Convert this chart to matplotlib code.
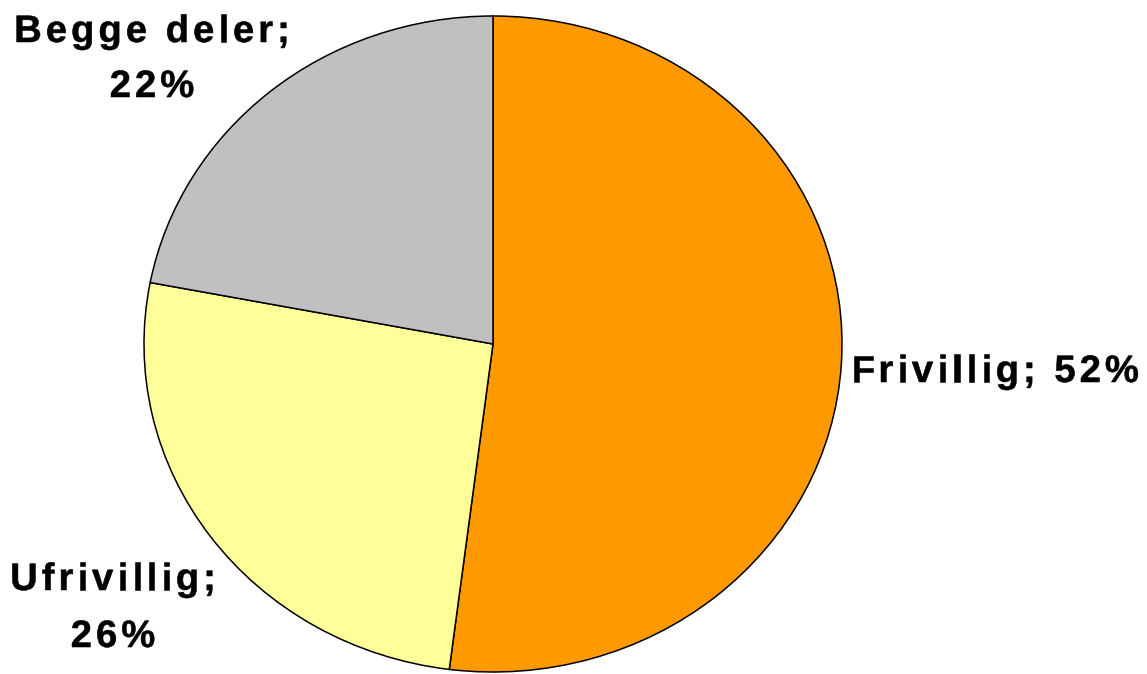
import matplotlib.pyplot as plt
from matplotlib.font_manager import FontProperties, findfont
from matplotlib.ft2font import FT2Font
from matplotlib.patches import PathPatch
from matplotlib.textpath import TextPath
from matplotlib.transforms import IdentityTransform

categories = ['Frivillig', 'Ufrivillig', 'Begge deler']
shares = [52, 26, 22]
colors = ['#FF9900', '#FFFF99', '#C0C0C0']

W, H = 1147, 674
DPI = 100
fig = plt.figure(figsize=(W / DPI, H / DPI), dpi=DPI)

# pie is slightly wider than tall, so stretch the axes instead of forcing equal aspect
cx, cy, rx, ry = 493, 344, 349, 328
ax = fig.add_axes([(cx - rx) / W, (H - cy - ry) / H, 2 * rx / W, 2 * ry / H])
ax.pie(shares, colors=colors, startangle=90, counterclock=False,
       wedgeprops=dict(edgecolor='black', linewidth=1.1))
ax.set_aspect('auto')
ax.set_xlim(-1, 1)
ax.set_ylim(-1, 1)
ax.axis('off')

# bold labels with loose letter spacing, drawn glyph by glyph in pixel coords
prop = FontProperties(family='Liberation Sans', weight='bold')
size_px = 27.5 * DPI / 72
font = FT2Font(findfont(prop))
font.set_size(size_px, 72)
tracking = 4.0


def advance(ch):
    glyph = font.load_char(ord(ch))
    return glyph.linearHoriAdvance / 65536


def line_width(s):
    return sum(advance(ch) for ch in s) + tracking * (len(s) - 1)


def draw_label(lines, x, baselines, ha='left'):
    for s, yb in zip(lines, baselines):
        x0 = x - line_width(s) / 2 if ha == 'center' else x
        for ch in s:
            if ch != ' ':
                tp = TextPath((x0, H - yb), ch, size=size_px, prop=prop)
                fig.add_artist(PathPatch(tp, facecolor='black', edgecolor='black',
                                         linewidth=0.4, transform=IdentityTransform()))
            x0 += advance(ch) + tracking


labels = [f'{c}; {v}%' for c, v in zip(categories, shares)]
draw_label([labels[0]], 851, [382])
draw_label(labels[1].split(' '), 113, [590, 647], ha='center')
draw_label(labels[2].rsplit(' ', 1), 152, [42, 97], ha='center')

fig.savefig('out.png', dpi=DPI)
